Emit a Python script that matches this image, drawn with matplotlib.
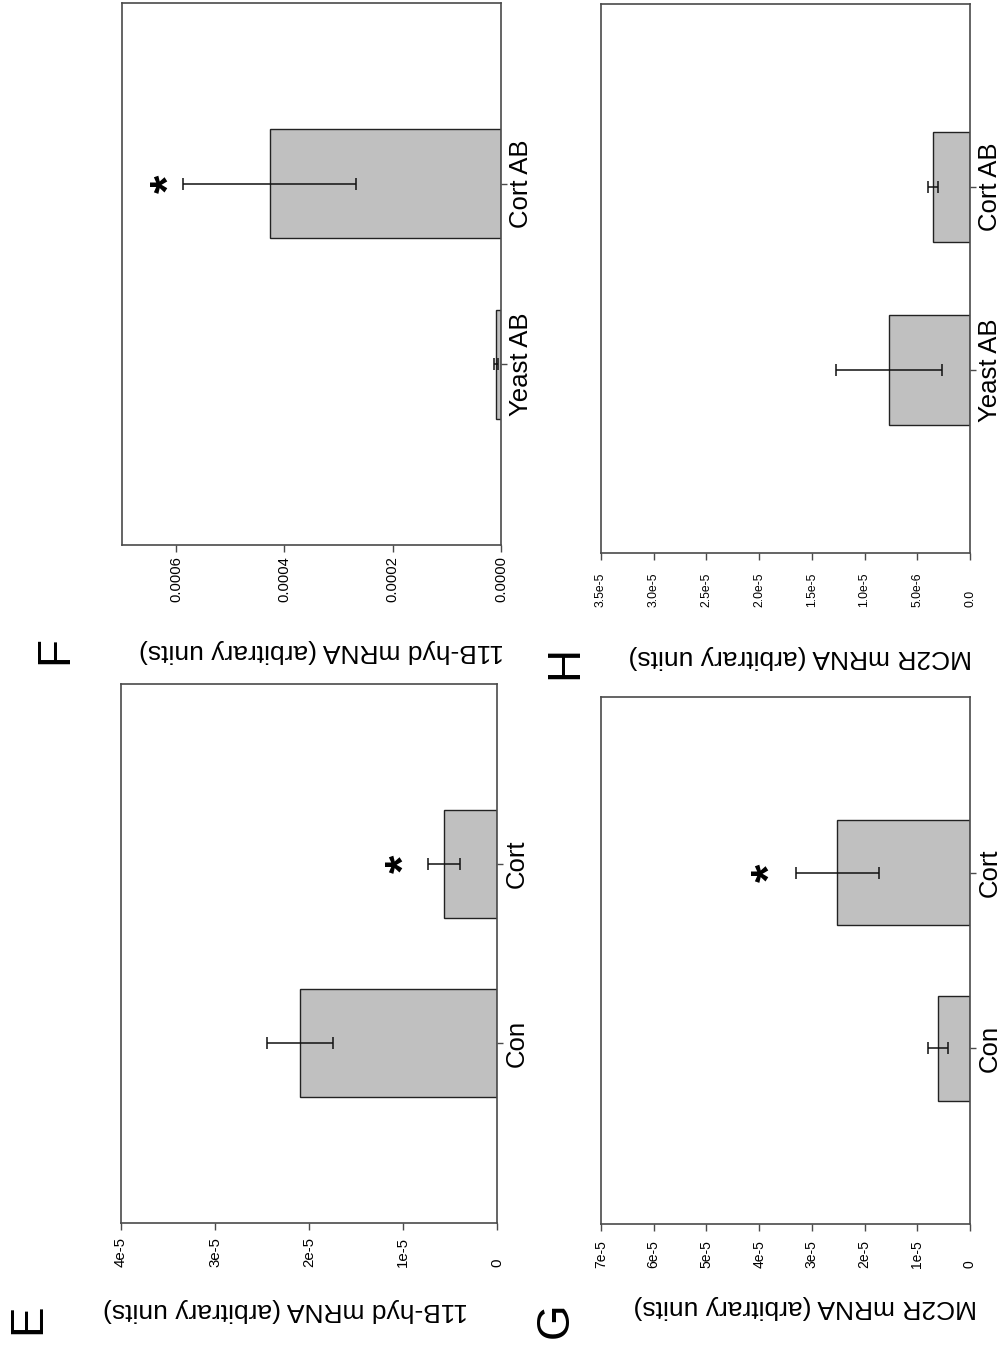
import matplotlib
matplotlib.use("Agg")
import matplotlib.pyplot as plt

plt.rcParams['font.family'] = ['Liberation Sans', 'DejaVu Sans']

# ---- data ----
e_cats = ['Con', 'Cort']
e_means = [2.10e-5, 0.56e-5]
e_errs = [0.35e-5, 0.17e-5]
e_ticks = [0, 1e-5, 2e-5, 3e-5, 4e-5]
e_ticklabels = ['0', '1e-5', '2e-5', '3e-5', '4e-5']

f_cats = ['Yeast AB', 'Cort AB']
f_means = [0.9e-5, 4.27e-4]
f_errs = [0.4e-5, 1.60e-4]
f_ticks = [0, 2e-4, 4e-4, 6e-4]
f_ticklabels = ['0.0000', '0.0002', '0.0004', '0.0006']

g_cats = ['Con', 'Cort']
g_means = [0.61e-5, 2.52e-5]
g_errs = [0.19e-5, 0.79e-5]
g_ticks = [0, 1e-5, 2e-5, 3e-5, 4e-5, 5e-5, 6e-5, 7e-5]
g_ticklabels = ['0', '1e-5', '2e-5', '3e-5', '4e-5', '5e-5', '6e-5', '7e-5']

h_cats = ['Yeast AB', 'Cort AB']
h_means = [7.7e-6, 3.5e-6]
h_errs = [5.0e-6, 0.5e-6]
h_ticks = [0, 5e-6, 1e-5, 1.5e-5, 2e-5, 2.5e-5, 3e-5, 3.5e-5]
h_ticklabels = ['0.0', '5.0e-6', '1.0e-5', '1.5e-5', '2.0e-5', '2.5e-5', '3.0e-5', '3.5e-5']

label_11b = '11B-hyd mRNA (arbitrary units)'
label_mc2r = 'MC2R mRNA (arbitrary units)'

W, H = 1000, 1346
fig = plt.figure(figsize=(W / 100, H / 100), dpi=100)


def px_axes(x0, y0, x1, y1):
    return fig.add_axes([x0 / W, 1 - y1 / H, (x1 - x0) / W, (y1 - y0) / H])


SPINE = '#4a4a4a'


def panel(ax, cats, means, errs, vmax, ticks, ticklabels, tick_fs,
          tick_pad, star_at=None):
    pos = list(range(len(cats)))
    ax.barh(pos, means, height=0.6, left=0, color='#c0c0c0',
            edgecolor='#222222', linewidth=1.0, zorder=2)
    ax.errorbar(means, pos, xerr=errs, fmt='none', ecolor='#111111',
                elinewidth=1.1, capsize=4, capthick=1.1, zorder=3)
    ax.set_xlim(vmax, 0)
    ax.set_ylim(-1, 2)
    ax.set_xticks(ticks)
    # value labels start at a common baseline line below the axis
    ax.set_xticklabels(ticklabels, rotation=90, fontsize=tick_fs,
                       va='bottom')
    ax.set_yticks(pos)
    ax.set_yticklabels(cats, rotation=90, va='center', fontsize=18.5)
    ax.yaxis.tick_right()
    ax.tick_params(axis='x', direction='out', length=5, width=1,
                   color=SPINE, pad=tick_pad)
    ax.tick_params(axis='y', direction='out', length=4.3, width=1,
                   color=SPINE, pad=1.5)
    for s in ax.spines.values():
        s.set_color(SPINE)
        s.set_linewidth(1.2)
    if star_at is not None:
        ax.text(star_at[0], star_at[1], '*', rotation=90, ha='center',
                va='center', fontsize=34, fontweight='bold', zorder=4)


axF = px_axes(122, 3, 501, 545)
panel(axF, f_cats, f_means, f_errs, 7e-4, f_ticks, f_ticklabels, 10.6,
      36, star_at=(6.1e-4, 1))

axH = px_axes(601, 4, 970, 553)
panel(axH, h_cats, h_means, h_errs, 3.5e-5, h_ticks, h_ticklabels, 8.7,
      33.9)

axE = px_axes(121, 684, 497, 1223)
panel(axE, e_cats, e_means, e_errs, 4e-5, e_ticks, e_ticklabels, 10.8,
      26.7, star_at=(0.97e-5, 1))

axG = px_axes(601, 697, 970, 1224)
panel(axG, g_cats, g_means, g_errs, 7e-5, g_ticks, g_ticklabels, 10,
      26.7, star_at=(3.77e-5, 1))


# value-axis titles (upside down) and panel letters
def ftext(x, y, s, **kw):
    fig.text(x / W, 1 - y / H, s, ha='center', va='center', **kw)


ftext(322, 651, label_11b, rotation=180, fontsize=19)
ftext(800, 657, label_mc2r, rotation=180, fontsize=19)
ftext(285, 1310, label_11b, rotation=180, fontsize=19)
ftext(805, 1307, label_mc2r, rotation=180, fontsize=19)

ftext(55, 650, 'F', rotation=90, fontsize=33)
ftext(565, 662, 'H', rotation=90, fontsize=33)
ftext(28, 1319, 'E', rotation=90, fontsize=33)
ftext(556, 1320, 'G', rotation=90, fontsize=33)

fig.savefig('out.png', dpi=100, facecolor='white')
